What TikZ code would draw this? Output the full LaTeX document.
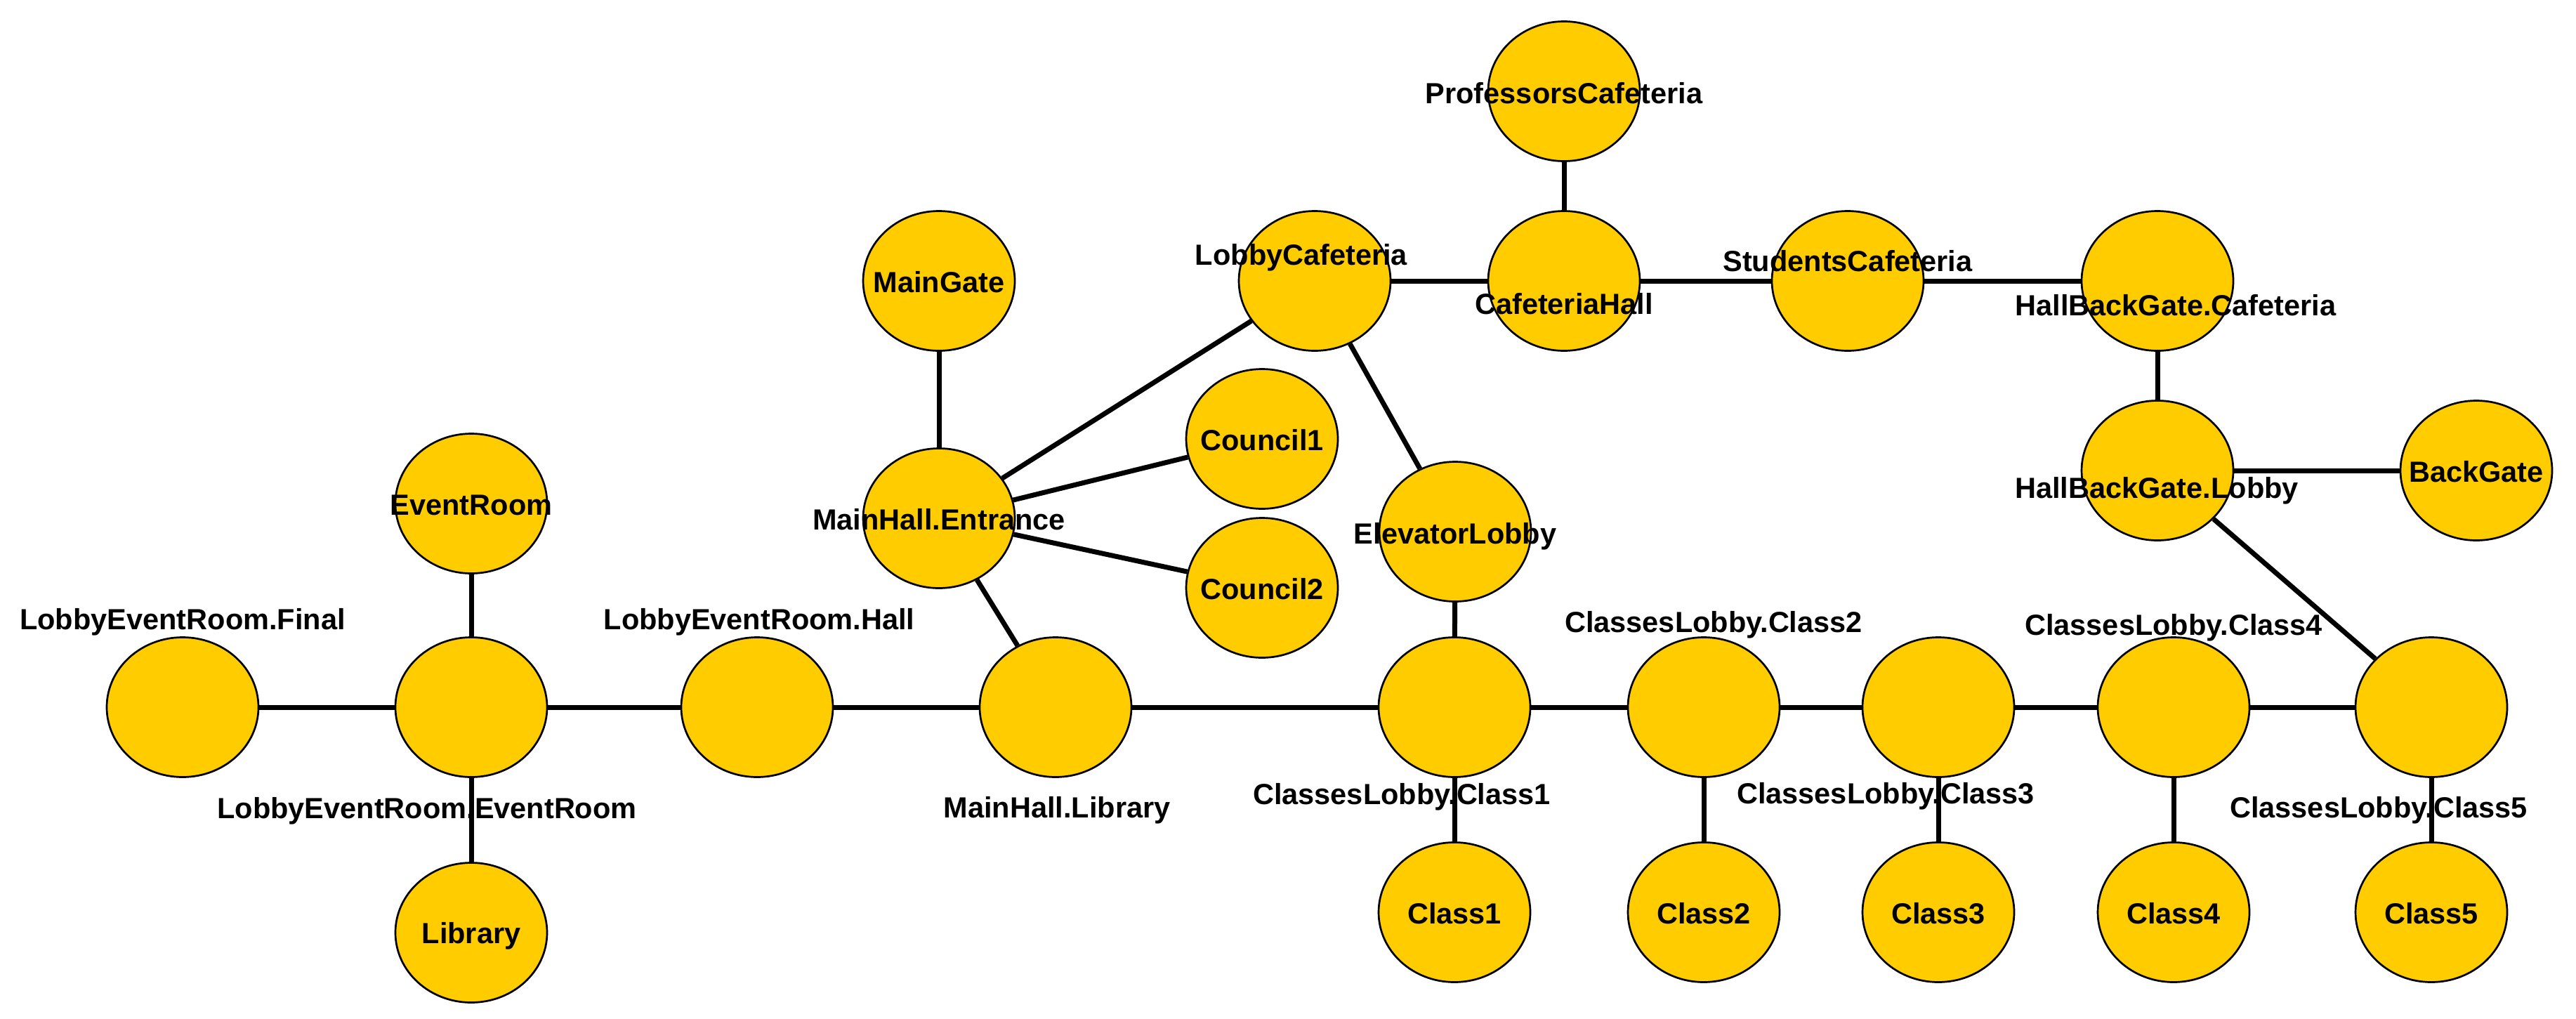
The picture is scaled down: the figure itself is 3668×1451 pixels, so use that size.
\documentclass[tikz,border=0pt]{standalone}
\usepackage{fontspec}
\setmainfont{Liberation Sans}
\usetikzlibrary{shapes.geometric}
\definecolor{nodeyellow}{RGB}{255,204,0}
\begin{document}
\begin{tikzpicture}[x=1pt,y=-1pt,
  place/.style={ellipse,draw=black,line width=2.7pt,fill=nodeyellow,minimum width=216pt,minimum height=199pt,inner sep=0pt},
  lbl/.style={anchor=base,inner sep=0pt,font=\fontsize{41.5}{48}\selectfont\bfseries},
  conn/.style={line width=7pt,black}]
\useasboundingbox (0,0) rectangle (3668,1451);
% places
\node[place] (fin) at (260,1007) {};
\node[place] (lerer) at (671,1007) {};
\node[place] (evr) at (671,717) {};
\node[place] (lib) at (671,1328) {};
\node[place] (lerh) at (1078,1007) {};
\node[place] (mhl) at (1503,1007) {};
\node[place] (mhe) at (1337,738) {};
\node[place] (mg) at (1337,400) {};
\node[place] (c1) at (1797,625) {};
\node[place] (c2) at (1797,837) {};
\node[place] (lc) at (1872,400) {};
\node[place] (ch) at (2227,400) {};
\node[place] (pc) at (2227,130) {};
\node[place] (sc) at (2631,400) {};
\node[place] (hbc) at (3072,400) {};
\node[place] (hbl) at (3072,670) {};
\node[place] (bg) at (3526,670) {};
\node[place] (el) at (2072,757) {};
\node[place] (cl1) at (2071,1007) {};
\node[place] (cl2) at (2426,1007) {};
\node[place] (cl3) at (2760,1007) {};
\node[place] (cl4) at (3095,1007) {};
\node[place] (cl5) at (3462,1007) {};
\node[place] (k1) at (2071,1299) {};
\node[place] (k2) at (2426,1299) {};
\node[place] (k3) at (2760,1299) {};
\node[place] (k4) at (3095,1299) {};
\node[place] (k5) at (3462,1299) {};
% labels
\node[lbl] (tfin) at (260,896) {LobbyEventRoom.Final};
\node[lbl] (tlerer) at (608,1165) {LobbyEventRoom.EventRoom};
\node[lbl] (tevr) at (671,733) {EventRoom};
\node[lbl] (tlib) at (671,1343) {Library};
\node[lbl] (tlerh) at (1081,896) {LobbyEventRoom.Hall};
\node[lbl] (tmhl) at (1505,1164) {MainHall.Library};
\node[lbl] (tmhe) at (1337,754) {MainHall.Entrance};
\node[lbl] (tmg) at (1337,416) {MainGate};
\node[lbl] (tc1) at (1797,641) {Council1};
\node[lbl] (tc2) at (1797,853) {Council2};
\node[lbl] (tlc) at (1853,377) {LobbyCafeteria};
\node[lbl] (tch) at (2227,447) {CafeteriaHall};
\node[lbl] (tpc) at (2227,147) {ProfessorsCafeteria};
\node[lbl] (tsc) at (2631,386) {StudentsCafeteria};
\node[lbl] (thbc) at (3098,449) {HallBackGate.Cafeteria};
\node[lbl] (thbl) at (3071,709) {HallBackGate.Lobby};
\node[lbl] (tbg) at (3526,686) {BackGate};
\node[lbl] (tel) at (2072,774) {ElevatorLobby};
\node[lbl] (tcl1) at (1996,1145) {ClassesLobby.Class1};
\node[lbl] (tcl2) at (2440,900) {ClassesLobby.Class2};
\node[lbl] (tcl3) at (2685,1144) {ClassesLobby.Class3};
\node[lbl] (tcl4) at (3095,904) {ClassesLobby.Class4};
\node[lbl] (tcl5) at (3387,1164) {ClassesLobby.Class5};
\node[lbl] (tk1) at (2071,1315) {Class1};
\node[lbl] (tk2) at (2426,1315) {Class2};
\node[lbl] (tk3) at (2760,1315) {Class3};
\node[lbl] (tk4) at (3095,1315) {Class4};
\node[lbl] (tk5) at (3462,1315) {Class5};
% connectors
\draw[conn] (fin) -- (lerer);
\draw[conn] (lerer) -- (evr);
\draw[conn] (lerer) -- (lib);
\draw[conn] (lerer) -- (lerh);
\draw[conn] (lerh) -- (mhl);
\draw[conn] (mhl) -- (mhe);
\draw[conn] (mhe) -- (mg);
\draw[conn] (mhe) -- (lc);
\draw[conn] (mhe) -- (c1);
\draw[conn] (mhe) -- (c2);
\draw[conn] (mhl) -- (cl1);
\draw[conn] (lc) -- (ch);
\draw[conn] (lc) -- (el);
\draw[conn] (ch) -- (pc);
\draw[conn] (ch) -- (sc);
\draw[conn] (sc) -- (hbc);
\draw[conn] (hbc) -- (hbl);
\draw[conn] (hbl) -- (bg);
\draw[conn] (hbl) -- (cl5);
\draw[conn] (el) -- (cl1);
\draw[conn] (cl1) -- (cl2);
\draw[conn] (cl2) -- (cl3);
\draw[conn] (cl3) -- (cl4);
\draw[conn] (cl4) -- (cl5);
\draw[conn] (cl1) -- (k1);
\draw[conn] (cl2) -- (k2);
\draw[conn] (cl3) -- (k3);
\draw[conn] (cl4) -- (k4);
\draw[conn] (cl5) -- (k5);
\end{tikzpicture}
\end{document}
